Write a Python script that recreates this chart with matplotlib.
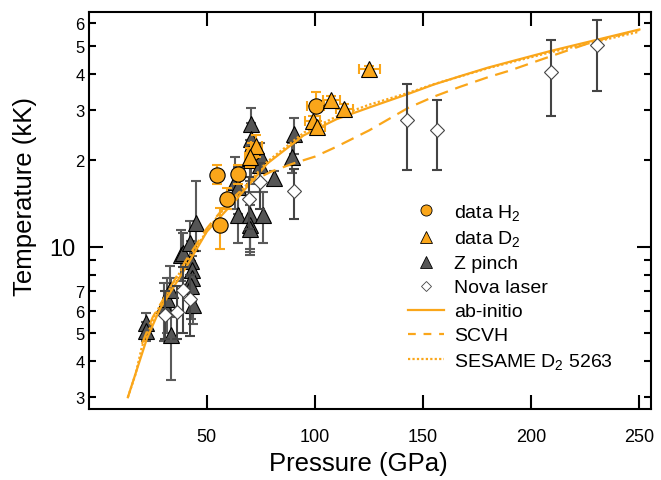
import matplotlib
matplotlib.use("Agg")
import matplotlib.pyplot as plt
import numpy as np

plt.rcParams['font.family'] = ['Liberation Sans', 'DejaVu Sans']
plt.rcParams['mathtext.fontset'] = 'custom'
plt.rcParams['mathtext.rm'] = 'Liberation Sans'
plt.rcParams['mathtext.it'] = 'Liberation Sans:italic'

# --- data (P in GPa, T in kK) ---
h2_p = [54.9, 64.4, 59.3, 55.9, 100.4, 71.0]
h2_t = [17.8, 17.9, 14.7, 11.9, 31.0, 21.2]
h2_lo = [16.5, 16.6, 13.5, 9.8, 28.5, 19.5]
h2_hi = [19.2, 19.3, 16.0, 13.6, 34.5, 23.0]
h2_xerr = [2.0, 2.0, 2.0, 2.0, 4.0, 2.0]

d2_p = [125.2, 107.5, 113.6, 99.0, 101.0, 72.8, 70.0]
d2_t = [41.6, 32.3, 30.2, 27.3, 26.2, 22.4, 20.5]
d2_lo = [40.5, 31.0, 29.0, 26.0, 25.0, 20.5, 19.0]
d2_hi = [42.7, 33.5, 31.5, 28.5, 27.5, 24.5, 22.0]
d2_xerr = [5.0, 4.0, 4.0, 3.5, 3.5, 2.5, 2.5]

zp_p = [22.0, 22.0, 33.5, 30.0, 31.5, 33.1, 38.0, 38.9, 42.3, 42.6, 43.1, 43.2,
        42.6, 43.8, 45.1, 70.4, 70.4, 70.0, 70.5, 74.4, 74.7, 81.0, 63.1, 64.6,
        64.6, 70.0, 75.9, 70.0, 70.0, 90.1, 89.3]
zp_t = [5.45, 5.1, 4.95, 6.3, 6.6, 7.1, 9.4, 9.5, 10.3, 8.9, 8.3, 7.8,
        7.3, 6.3, 12.1, 26.8, 23.8, 20.3, 20.0, 19.2, 20.8, 17.3, 16.8, 16.1,
        12.9, 12.9, 12.9, 11.9, 11.5, 24.7, 20.5]
zp_lo = [4.95, 4.7, 3.45, 4.7, 5.0, 5.7, 7.6, 7.8, 8.6, 7.0, 6.5, 5.9,
         5.6, 5.4, 9.7, 23.5, 19.5, 17.0, 16.5, 15.5, 17.0, 16.6, 13.5, 13.0,
         10.3, 9.8, 10.3, 9.6, 9.4, 21.0, 18.0]
zp_hi = [5.9, 5.5, 7.8, 7.5, 7.8, 8.6, 11.4, 11.2, 12.3, 10.5, 10.0, 9.3,
         8.9, 7.5, 17.0, 30.4, 27.0, 23.5, 23.0, 21.0, 23.0, 18.3, 20.5, 19.0,
         15.5, 15.5, 15.5, 14.5, 14.0, 28.0, 23.0]

nv_p = [30.7, 36.2, 38.9, 42.3, 69.4, 74.7, 90.5, 142.6, 156.2, 209.1, 230.6]
nv_t = [5.8, 5.95, 7.07, 6.6, 14.7, 16.8, 15.6, 27.7, 25.4, 40.5, 50.4]
nv_lo = [4.8, 4.8, 5.0, 4.9, 11.5, 13.5, 12.5, 18.5, 18.5, 28.6, 34.7]
nv_hi = [7.0, 7.3, 8.5, 8.0, 17.5, 19.5, 18.7, 36.7, 32.3, 52.5, 61.5]

abi_p = [13.5, 22.3, 28.4, 40.8, 50, 63.9, 78, 94.7, 110, 125.5, 143, 155, 167, 180, 190, 209, 229, 250]
abi_t = [3.0, 4.8, 6.1, 8.6, 11.3, 14.7, 19.5, 24.4, 27.8, 30.6, 34.0, 36.7, 39.2, 42.0, 44.0, 48.0, 52.2, 57.0]

scvh_p = [20, 25, 33, 40, 50, 60, 70, 80, 90, 100, 110, 125, 143, 155, 167, 180, 190, 209, 229, 250]
scvh_t = [4.6, 5.7, 7.2, 8.9, 11.6, 14.3, 16.8, 18.3, 19.5, 20.6, 22.3, 25.4, 30.4, 33.3, 36.0, 38.9, 41.0, 46.0, 51.8, 56.8]

ses_p = [13.5, 17, 20, 27, 35, 45, 55, 65, 78, 95, 110, 125, 143, 155, 167, 180, 190, 209, 229, 250]
ses_t = [3.0, 3.6, 4.5, 6.0, 7.6, 10.0, 12.8, 15.4, 19.8, 25.0, 28.4, 31.2, 34.3, 36.8, 39.1, 41.8, 43.7, 47.5, 51.5, 56.0]

orange = '#FAA61A'
dgray = '#555555'

fig = plt.figure(figsize=(6.61, 4.81), dpi=100)
ax = fig.add_axes([0.1346, 0.1476, 0.85, 0.8247])

def yerr(t, lo, hi):
    t = np.array(t); return [t - np.array(lo), np.array(hi) - t]

# Z pinch
ax.errorbar(zp_p, zp_t, yerr=yerr(zp_t, zp_lo, zp_hi), fmt='none', ecolor='#5a5a5a',
            elinewidth=1.5, capsize=3.6, capthick=1.5, zorder=2)
ax.plot(zp_p, zp_t, '^', ms=11, mfc=dgray, mec='black', mew=0.8, ls='none', zorder=3)

# curves
ax.plot(abi_p, abi_t, '-', color=orange, lw=1.6, zorder=4)
ax.plot(scvh_p, scvh_t, '--', color=orange, lw=1.6, dashes=(6, 3.5), zorder=4)
ax.plot(ses_p, ses_t, ':', color=orange, lw=1.6, dashes=(1, 1), zorder=4)

# Nova laser
ax.errorbar(nv_p, nv_t, yerr=yerr(nv_t, nv_lo, nv_hi), fmt='none', ecolor='#444444',
            elinewidth=1.5, capsize=3.6, capthick=1.5, zorder=5)
ax.plot(nv_p, nv_t, 'D', ms=7.5, mfc='white', mec='#444444', mew=0.8, ls='none', zorder=6)

# data H2
ax.errorbar(h2_p, h2_t, yerr=yerr(h2_t, h2_lo, h2_hi), xerr=h2_xerr, fmt='none', ecolor=orange,
            elinewidth=1.5, capsize=3.6, capthick=1.5, zorder=7)
ax.plot(h2_p, h2_t, 'o', ms=11, mfc=orange, mec='black', mew=0.8, ls='none', zorder=8)

# data D2
ax.errorbar(d2_p, d2_t, yerr=yerr(d2_t, d2_lo, d2_hi), xerr=d2_xerr, fmt='none', ecolor=orange,
            elinewidth=1.5, capsize=3.6, capthick=1.5, zorder=9)
ax.plot(d2_p, d2_t, '^', ms=11, mfc=orange, mec='black', mew=0.8, ls='none', zorder=10)

# legend handles
hs = [ax.plot([], [], 'o', ms=8, mfc=orange, mec='black', mew=0.6)[0],
      ax.plot([], [], '^', ms=8, mfc=orange, mec='black', mew=0.6)[0],
      ax.plot([], [], '^', ms=8, mfc=dgray, mec='black', mew=0.6)[0],
      ax.plot([], [], 'D', ms=5.5, mfc='white', mec='#444444', mew=0.6)[0],
      ax.plot([], [], '-', color=orange, lw=1.6)[0],
      ax.plot([], [], '--', color=orange, lw=1.6, dashes=(3.5, 3.5))[0],
      ax.plot([], [], ':', color=orange, lw=1.6, dashes=(1, 1))[0]]
labels = ['data H$_2$', 'data D$_2$', 'Z pinch', 'Nova laser', 'ab-initio', 'SCVH',
          'SESAME D$_2$ 5263']
ax.legend(hs, labels, loc='upper left', bbox_to_anchor=(0.567, 0.522), frameon=False,
          fontsize=14, handlelength=1.9, handletextpad=0.5, labelspacing=0.33,
          borderpad=0, borderaxespad=0)

ax.set_yscale('log')
ax.set_xlim(-4.5, 255.3)
ax.set_ylim(2.73, 65.4)

ax.set_xticks([50, 100, 150, 200, 250])
ax.set_xticklabels(['50', '100', '150', '200', '250'])
ax.set_yticks([10])
ax.set_yticklabels(['10'])
minor = [3, 4, 5, 6, 7, 8, 9, 20, 30, 40, 50, 60]
minor_lab = ['3', '4', '5', '6', '7', '', '', '2', '3', '4', '5', '6']
ax.set_yticks(minor, minor=True)
ax.set_yticklabels(minor_lab, minor=True)
ax.xaxis.set_minor_locator(matplotlib.ticker.NullLocator())

ax.tick_params(axis='both', which='major', direction='in', length=10, width=1.5,
               top=True, right=True)
ax.tick_params(axis='x', which='major', labelsize=13, pad=14)
ax.tick_params(axis='y', which='major', labelsize=17, pad=10)
ax.tick_params(axis='y', which='minor', direction='in', length=5, width=1.5,
               right=True, labelsize=12, pad=3)
for s in ax.spines.values():
    s.set_linewidth(1.5)

ax.set_xlabel('Pressure (GPa)', fontsize=18.5)
ax.set_ylabel('Temperature (kK)', fontsize=18.5)
ax.xaxis.set_label_coords(0.479, -0.105)
ax.yaxis.set_label_coords(-0.092, 0.539)

fig.savefig('out.png', dpi=100)
